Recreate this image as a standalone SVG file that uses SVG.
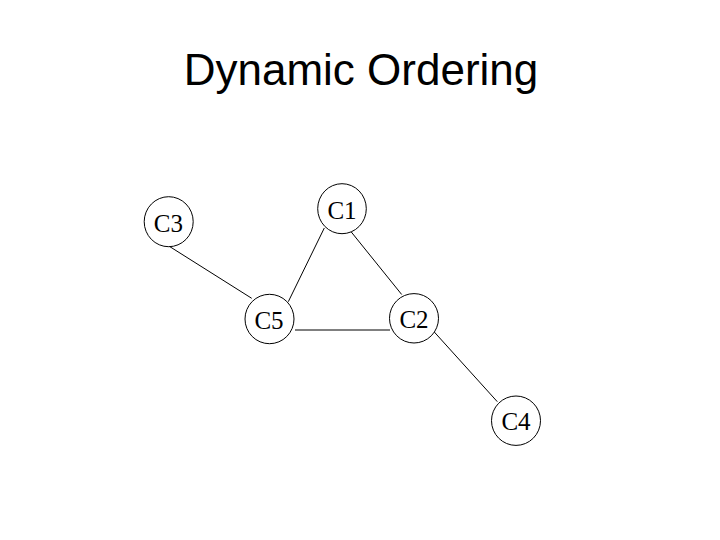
<svg xmlns="http://www.w3.org/2000/svg" width="720" height="540" viewBox="0 0 720 540">
<style>
.node ellipse{fill:#fff;stroke:#000;stroke-width:1}
.node text{font-family:"Liberation Serif","Times New Roman",serif;font-size:25px;text-anchor:middle;fill:#000}
#edges line{stroke:#000;stroke-width:1}
.title{font-family:"Liberation Sans",Arial,sans-serif;font-size:44px;text-anchor:middle;fill:#000}
</style>
<rect width="720" height="540" fill="#fff"/>
<text class="title" x="361" y="85">Dynamic Ordering</text>
<g id="edges">
<line x1="167.7" y1="245.3" x2="251.7" y2="298.3"/>
<line x1="324.3" y1="228" x2="288.3" y2="301.7"/>
<line x1="348.3" y1="228.3" x2="401.7" y2="294.5"/>
<line x1="295" y1="330" x2="390" y2="330"/>
<line x1="434" y1="331.7" x2="497.3" y2="401.7"/>
</g>
<g id="C1" class="node"><ellipse cx="342" cy="208.7" rx="24.3" ry="25"/><text x="342" y="218.5">C1</text></g>
<g id="C3" class="node"><ellipse cx="168.7" cy="221.7" rx="24.5" ry="25"/><text x="168.3" y="231.5">C3</text></g>
<g id="C5" class="node"><ellipse cx="269.5" cy="319" rx="24.5" ry="24.7"/><text x="269" y="328.7">C5</text></g>
<g id="C2" class="node"><ellipse cx="414" cy="318.3" rx="24.5" ry="24.7"/><text x="414" y="328">C2</text></g>
<g id="C4" class="node"><ellipse cx="516" cy="420.7" rx="24.5" ry="24.7"/><text x="516" y="430.3">C4</text></g>
</svg>
